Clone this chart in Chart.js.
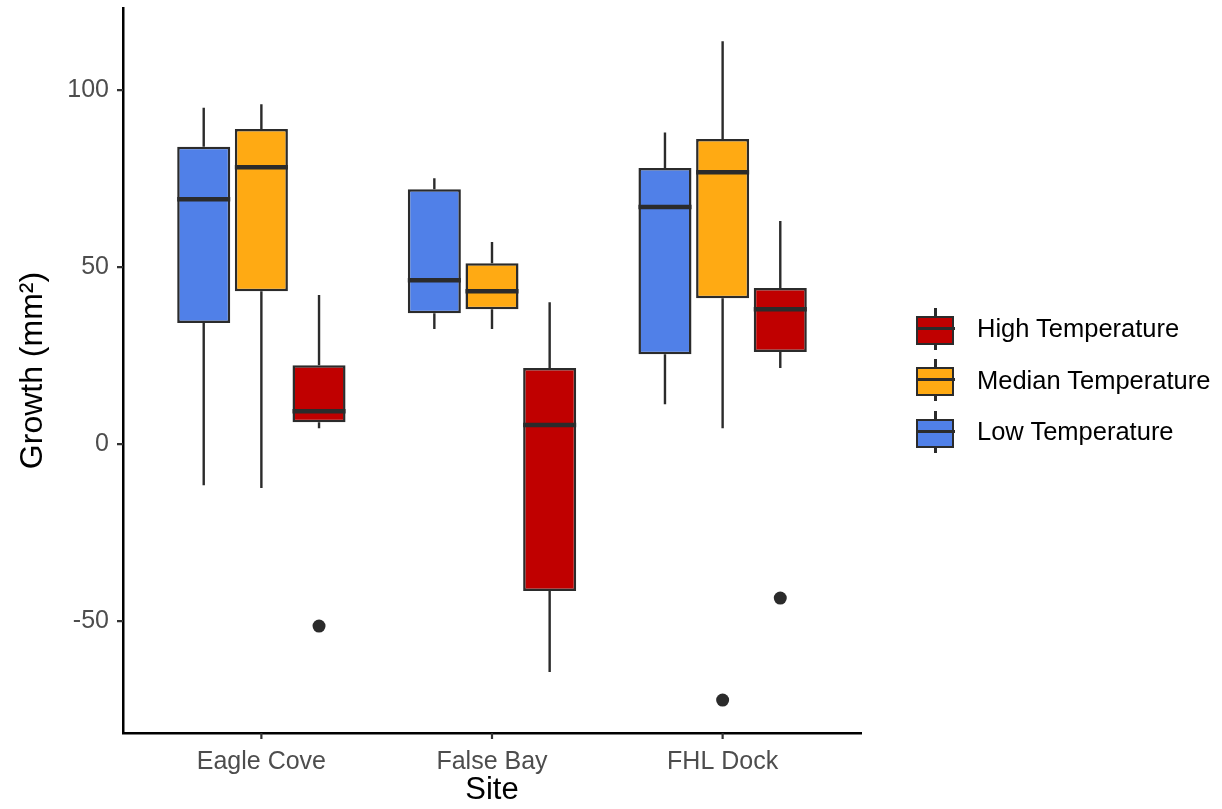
<!DOCTYPE html>
<html><head><meta charset="utf-8">
<script src="https://cdn.jsdelivr.net/npm/chart.js@4"></script>
<style>
html,body{margin:0;padding:0;background:#fff;}
#wrap{position:relative;width:1222px;height:809px;}
#c{position:absolute;left:0;top:0;}
#legend{position:absolute;left:916px;top:303px;font-family:"Liberation Sans",Arial,Helvetica,sans-serif;font-size:25.5px;color:#000;}
.item{display:flex;align-items:center;height:51.5px;}
.key{position:relative;width:39px;height:46px;margin-right:22px;}
.key .wh{position:absolute;left:18px;top:2px;width:3px;height:42px;background:#2b2b2b;}
.key .bx{position:absolute;left:0;top:10px;width:34px;height:25px;border:2.5px solid #2b2b2b;}
.key .md{position:absolute;left:0;top:21px;width:39px;height:3px;background:#2b2b2b;}
</style></head>
<body>
<div id="wrap"><canvas id="c" width="1222" height="809"></canvas><div id="legend"></div></div>
<script>
const sites = ['Eagle Cove', 'False Bay', 'FHL Dock'];
const groups = ['Low Temperature', 'Median Temperature', 'High Temperature'];
const colors = ['#5080E8', '#FFAA13', '#C00000'];
const yTicks = [-50, 0, 50, 100];

const lowMin = [-11.6, 32.5, 11.3];
const lowQ1  = [34.2, 37.0, 25.4];
const lowMed = [69.2, 46.3, 67.0];
const lowQ3  = [84.0, 72.0, 78.0];
const lowMax = [95.0, 75.1, 88.0];
const lowOut = [[], [], []];

const medMin = [-12.4, 32.5, 4.5];
const medQ1  = [43.2, 38.1, 41.2];
const medMed = [78.2, 43.2, 76.8];
const medQ3  = [89.0, 51.1, 86.2];
const medMax = [96.0, 57.1, 113.8];
const medOut = [[], [], [-72.3]];

const highMin = [4.5, -64.4, 21.5];
const highQ1  = [6.2, -41.5, 26.0];
const highMed = [9.3, 5.4, 38.1];
const highQ3  = [22.3, 21.5, 44.1];
const highMax = [42.1, 40.1, 63.0];
const highOut = [[-51.4], [], [-43.5]];

const stats = [
  {min: lowMin, q1: lowQ1, med: lowMed, q3: lowQ3, max: lowMax, out: lowOut},
  {min: medMin, q1: medQ1, med: medMed, q3: medQ3, max: medMax, out: medOut},
  {min: highMin, q1: highQ1, med: highMed, q3: highQ3, max: highMax, out: highOut}
];

const FONT = '"Liberation Sans", Arial, Helvetica, sans-serif';
const INK = '#2b2b2b';

const datasets = groups.map((g, gi) => ({
  label: g,
  data: sites.map((s, si) => ({x: si + 1, y: [stats[gi].q1[si], stats[gi].q3[si]]})),
  backgroundColor: colors[gi],
  borderColor: INK,
  borderWidth: 2.5,
  borderSkipped: false,
  barPercentage: 0.92,
  categoryPercentage: 0.75
}));

const boxPlugin = {
  id: 'boxExtras',
  beforeDatasetsDraw(chart) {
    const ctx = chart.ctx, y = chart.scales.y;
    ctx.save();
    ctx.strokeStyle = INK; ctx.lineWidth = 2.4; ctx.lineCap = 'butt';
    stats.forEach((st, gi) => {
      const meta = chart.getDatasetMeta(gi);
      meta.data.forEach((bar, si) => {
        ctx.beginPath();
        ctx.moveTo(bar.x, y.getPixelForValue(st.max[si]));
        ctx.lineTo(bar.x, y.getPixelForValue(st.q3[si]));
        ctx.moveTo(bar.x, y.getPixelForValue(st.q1[si]));
        ctx.lineTo(bar.x, y.getPixelForValue(st.min[si]));
        ctx.stroke();
      });
    });
    ctx.restore();
  },
  afterDatasetsDraw(chart) {
    const ctx = chart.ctx, y = chart.scales.y;
    ctx.save();
    stats.forEach((st, gi) => {
      const meta = chart.getDatasetMeta(gi);
      meta.data.forEach((bar, si) => {
        const w = bar.width;
        ctx.strokeStyle = INK; ctx.lineWidth = 4.5;
        const py = y.getPixelForValue(st.med[si]);
        ctx.beginPath();
        ctx.moveTo(bar.x - w / 2, py);
        ctx.lineTo(bar.x + w / 2, py);
        ctx.stroke();
        ctx.fillStyle = INK;
        st.out[si].forEach(v => {
          ctx.beginPath();
          ctx.arc(bar.x, y.getPixelForValue(v), 6.5, 0, Math.PI * 2);
          ctx.fill();
        });
      });
    });
    ctx.restore();
  },
  afterDraw(chart) {
    // axis tick marks (outside the panel), placed through the scales
    const ctx = chart.ctx, xs = chart.scales.x, ys = chart.scales.y, a = chart.chartArea;
    ctx.save();
    ctx.strokeStyle = '#333'; ctx.lineWidth = 2.2;
    ctx.beginPath();
    xs.ticks.forEach(t => {
      const px = xs.getPixelForValue(t.value);
      ctx.moveTo(px, a.bottom); ctx.lineTo(px, a.bottom + 6);
    });
    ys.ticks.forEach(t => {
      const py = ys.getPixelForValue(t.value);
      ctx.moveTo(a.left, py); ctx.lineTo(a.left - 6, py);
    });
    ctx.stroke();
    ctx.restore();
  }
};

new Chart(document.getElementById('c'), {
  type: 'bar',
  data: {datasets},
  options: {
    responsive: false,
    animation: false,
    layout: {padding: {top: 8, right: 361, left: 0, bottom: 0}},
    plugins: {legend: {display: false}, tooltip: {enabled: false}},
    scales: {
      x: {
        type: 'linear',
        min: 0.4, max: 3.6,
        offset: false,
        afterBuildTicks: sc => { sc.ticks = sites.map((s, i) => ({value: i + 1})); },
        afterFit: sc => { sc.height = 76; sc.paddingLeft = 0; sc.paddingRight = 0; },
        ticks: {
          callback: v => sites[v - 1],
          color: '#4d4d4d',
          font: {family: FONT, size: 25},
          padding: 14,
          maxRotation: 0, autoSkip: false
        },
        grid: {display: false, drawTicks: false},
        border: {display: true, color: '#000', width: 2.5},
        title: {display: true, text: 'Site', color: '#000', font: {family: FONT, size: 31}, padding: {top: 0, bottom: 0}}
      },
      y: {
        type: 'linear',
        min: -81.6, max: 123.2,
        afterBuildTicks: sc => { sc.ticks = yTicks.map(v => ({value: v})); },
        afterFit: sc => { sc.width = 123; sc.paddingTop = 0; sc.paddingBottom = 0; },
        ticks: {
          color: '#4d4d4d',
          font: {family: FONT, size: 25},
          padding: 14
        },
        grid: {display: false, drawTicks: false},
        border: {display: true, color: '#000', width: 2.5},
        title: {display: true, text: 'Growth (mm²)', color: '#000', font: {family: FONT, size: 32}, padding: {top: 14, bottom: 0}}
      }
    }
  },
  plugins: [boxPlugin]
});

const legend = document.getElementById('legend');
[2, 1, 0].forEach(gi => {
  const it = document.createElement('div'); it.className = 'item';
  const key = document.createElement('div'); key.className = 'key';
  key.innerHTML = '<div class="wh"></div><div class="bx" style="background:' + colors[gi] + '"></div><div class="md"></div>';
  const tx = document.createElement('span'); tx.textContent = groups[gi];
  it.appendChild(key); it.appendChild(tx); legend.appendChild(it);
});
</script>
</body></html>
